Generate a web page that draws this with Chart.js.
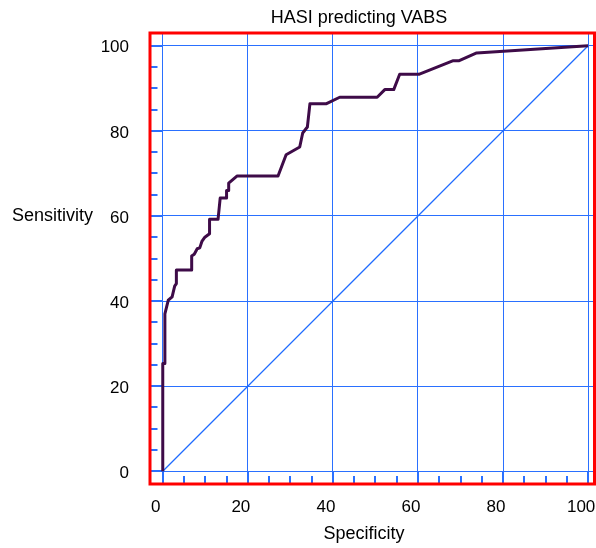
<!DOCTYPE html>
<html>
<head>
<meta charset="utf-8">
<script src="https://cdn.jsdelivr.net/npm/chart.js@4/dist/chart.umd.min.js"></script>
<style>
html,body{margin:0;padding:0;background:#fff;overflow:hidden;}
#wrap{width:596px;height:548px;position:relative;}
</style>
</head>
<body>
<div id="wrap"><canvas id="c" width="596" height="548"></canvas></div>
<script>
// ---- data ----
const chartTitle = 'HASI predicting VABS';
const xTitle = 'Specificity';
const yTitle = 'Sensitivity';

const rocX = [0, 0, 0.5, 0.5, 1.3, 2.2, 2.8, 3.2, 3.2, 6.8, 6.8, 7.4, 8.1, 8.7, 9.2, 9.9, 11, 11, 13, 13.5, 15, 15, 15.5, 15.5, 17.5, 27.1, 29, 32.2, 32.9, 34, 34.6, 38.5, 41.6, 50.4, 52.2, 54.3, 55.7, 60.2, 68.3, 69.7, 73.8, 100];
const rocY = [0, 25.3, 25.3, 37, 40.2, 41, 43.5, 44.1, 47.3, 47.3, 50.6, 51, 52.3, 52.5, 54, 55, 55.8, 59.2, 59.2, 64.2, 64.2, 66, 66, 67.7, 69.4, 69.4, 74.4, 76.2, 79.5, 80.9, 86.4, 86.4, 87.9, 87.9, 89.7, 89.7, 93.3, 93.3, 96.5, 96.5, 98.3, 100];

const diagX = [0, 100];
const diagY = [0, 100];

const xMajorTicks = [0, 20, 40, 60, 80, 100];
const yMajorTicks = [0, 20, 40, 60, 80, 100];
const xMinorTicks = [5, 10, 15, 25, 30, 35, 45, 50, 55, 65, 70, 75, 85, 90, 95];
const yMinorTicks = [5, 10, 15, 25, 30, 35, 45, 50, 55, 65, 70, 75, 85, 90, 95];

// ---- styles ----
const BLUE = '#2a70ff';
const CURVE = '#3e0b48';
const FONT = '"Liberation Sans", Arial, Helvetica, sans-serif';

const rocData = rocX.map((x, i) => ({x: x, y: rocY[i]}));
const diagData = diagX.map((x, i) => ({x: x, y: diagY[i]}));

const decorPlugin = {
  id: 'decor',
  beforeDatasetsDraw(chart) {
    const ctx = chart.ctx;
    const xs = chart.scales.x, ys = chart.scales.y;
    const a = chart.chartArea;
    ctx.save();
    ctx.strokeStyle = BLUE;
    ctx.lineWidth = 2;
    ctx.beginPath();
    yMinorTicks.forEach(v => {
      const p = Math.round(ys.getPixelForValue(v));
      ctx.moveTo(a.left, p); ctx.lineTo(a.left + 7.5, p);
    });
    yMajorTicks.forEach(v => {
      const p = Math.round(ys.getPixelForValue(v));
      ctx.moveTo(a.left, p); ctx.lineTo(a.left + 13, p);
    });
    xMinorTicks.forEach(v => {
      const p = Math.round(xs.getPixelForValue(v));
      ctx.moveTo(p, a.bottom); ctx.lineTo(p, a.bottom - 8);
    });
    xMajorTicks.forEach(v => {
      const p = Math.round(xs.getPixelForValue(v));
      ctx.moveTo(p, a.bottom); ctx.lineTo(p, a.bottom - 13);
    });
    ctx.stroke();
    ctx.restore();
  },
  afterDraw(chart) {
    const ctx = chart.ctx;
    const a = chart.chartArea;
    ctx.save();
    ctx.strokeStyle = '#ff0000';
    ctx.lineWidth = 3;
    ctx.strokeRect(a.left, a.top, a.right - a.left, a.bottom - a.top);
    ctx.fillStyle = '#000';
    ctx.font = '18px ' + FONT;
    ctx.textAlign = 'center';
    ctx.textBaseline = 'alphabetic';
    ctx.fillText(chartTitle, 359, 22.5);
    ctx.fillText(xTitle, 364, 539);
    ctx.fillText(yTitle, 52.5, 221);
    ctx.restore();
  }
};

new Chart(document.getElementById('c'), {
  type: 'scatter',
  data: {
    datasets: [
      {
        data: diagData,
        showLine: true,
        borderColor: '#1f6bff',
        borderWidth: 1.2,
        pointRadius: 0,
        tension: 0,
        order: 2
      },
      {
        data: rocData,
        showLine: true,
        borderColor: CURVE,
        borderWidth: 3,
        pointRadius: 0,
        tension: 0,
        borderJoinStyle: 'round',
        order: 1
      }
    ]
  },
  options: {
    responsive: false,
    animation: false,
    devicePixelRatio: 1,
    layout: {padding: {top: 33, right: 1.5, left: 0, bottom: 0}},
    plugins: {legend: {display: false}, tooltip: {enabled: false}, title: {display: false}},
    scales: {
      x: {
        type: 'linear',
        min: -3,
        max: 101.5,
        afterBuildTicks: s => { s.ticks = xMajorTicks.map(v => ({value: v})); },
        afterFit: s => { s.height = 64; s.paddingLeft = 0; s.paddingRight = 0; },
        grid: {color: BLUE, lineWidth: 1, drawTicks: false},
        border: {display: false},
        ticks: {
          color: '#000',
          font: {family: FONT, size: 17},
          padding: 13,
          labelOffset: -7,
          maxRotation: 0,
          autoSkip: false
        }
      },
      y: {
        type: 'linear',
        min: -3,
        max: 103,
        afterBuildTicks: s => { s.ticks = yMajorTicks.map(v => ({value: v})); },
        afterFit: s => { s.width = 150; s.paddingTop = 0; s.paddingBottom = 0; },
        grid: {color: BLUE, lineWidth: 1, drawTicks: false},
        border: {display: false},
        ticks: {
          color: '#000',
          font: {family: FONT, size: 17},
          padding: 21,
          labelOffset: 2,
          autoSkip: false
        }
      }
    }
  },
  plugins: [decorPlugin]
});
</script>
</body>
</html>
